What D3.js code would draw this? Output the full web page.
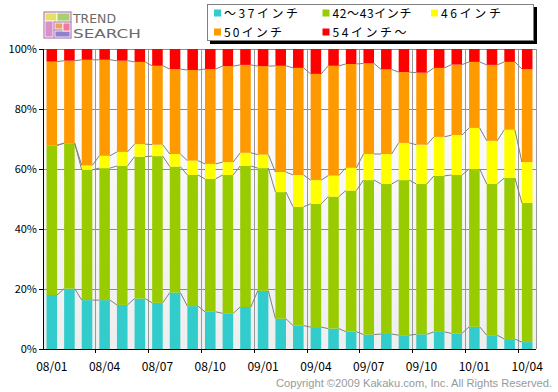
<!DOCTYPE html>
<html>
<head>
<meta charset="utf-8">
<script src="https://cdn.jsdelivr.net/npm/d3@7"></script>
<style>
  body { margin: 0; background: #fff; }
  text { font-family: "Noto Sans CJK JP", "DejaVu Sans", sans-serif; }
</style>
</head>
<body>
<div id="chart"></div>
<script>
// months (x categories) and share of each screen size class, in %
var months = ["08/01","08/02","08/03","08/04","08/05","08/06","08/07","08/08","08/09","08/10","08/11","08/12",
              "09/01","09/02","09/03","09/04","09/05","09/06","09/07","09/08","09/09","09/10","09/11","09/12",
              "10/01","10/02","10/03","10/04"];
var tickMonths = ["08/01","08/04","08/07","08/10","09/01","09/04","09/07","09/10","10/01","10/04"];

var seriesNames = ["～37インチ", "42～43インチ", "46インチ", "50インチ", "54インチ～"];
var seriesColors = ["#33cccc", "#99cc00", "#ffff00", "#ff9900", "#ff0000"];

var s37 = [18.0,20.1,16.3,16.3,14.7,16.8,15.4,18.8,14.3,12.4,11.9,14.0,19.4,10.1,7.8,7.3,6.8,5.8,4.8,5.0,4.6,4.9,5.7,5.2,7.4,4.6,3.3,2.3];
var s42 = [49.9,48.5,43.4,44.0,46.3,47.3,48.9,42.0,43.7,44.3,46.1,47.0,40.9,42.2,39.6,41.1,44.0,47.0,51.5,50.0,51.7,50.1,52.0,52.8,52.6,50.4,53.7,46.4];
var s46 = [0.0,0.0,1.5,4.1,4.7,4.2,3.8,4.2,4.8,5.0,4.3,4.4,4.5,6.7,10.6,7.9,7.0,7.6,8.7,10.0,12.4,13.1,13.0,13.3,13.7,14.4,16.1,13.6];
var s50 = [27.9,27.5,35.2,32.0,30.4,27.4,26.3,28.3,30.2,31.6,32.0,29.3,29.5,35.4,35.7,35.4,36.6,34.6,30.2,28.2,23.6,24.0,23.0,23.5,22.0,25.3,22.6,31.0];
var s54 = [4.2,3.9,3.6,3.6,3.9,4.3,5.6,6.7,7.0,6.7,5.7,5.3,5.7,5.6,6.3,8.3,5.6,5.0,4.8,6.8,7.7,7.9,6.3,5.2,4.3,5.3,4.3,6.7];

var yTicks = [0, 20, 40, 60, 80, 100];

var W = 558, H = 392;
var margin = {top: 49, right: 22, bottom: 43, left: 43},
    width = W - margin.left - margin.right,
    height = H - margin.top - margin.bottom;

var svg = d3.select("#chart").append("svg")
    .attr("width", W).attr("height", H);

// table for the stack
var table = months.map(function (m, i) {
  return {month: m, a: s37[i], b: s42[i], c: s46[i], d: s50[i], e: s54[i]};
});
var keys = ["a", "b", "c", "d", "e"];
var stacked = d3.stack().keys(keys).offset(d3.stackOffsetExpand)(table);

var x = d3.scaleBand().domain(months).range([0, width]).paddingInner(0.4).paddingOuter(0.2);
var y = d3.scaleLinear().domain([0, 1]).range([height, 0]);

// background gradient
var defs = svg.append("defs");
var grad = defs.append("linearGradient").attr("id", "bg").attr("x1", 0).attr("y1", 0).attr("x2", 0).attr("y2", 1);
grad.append("stop").attr("offset", "0%").attr("stop-color", "#ffffff");
grad.append("stop").attr("offset", "100%").attr("stop-color", "#eeeeee");

var g = svg.append("g").attr("transform", "translate(" + margin.left + "," + margin.top + ")");

g.append("rect").attr("width", width).attr("height", height).attr("fill", "url(#bg)");

// horizontal grid
g.append("g").selectAll("line").data(yTicks.slice(1)).enter().append("line")
  .attr("x1", 0).attr("x2", width)
  .attr("y1", function (d) { return y(d / 100); }).attr("y2", function (d) { return y(d / 100); })
  .attr("stroke", "#8c8c8c").attr("stroke-width", 1).attr("shape-rendering", "crispEdges");

// vertical grid between groups of 3 months
var vIdx = d3.range(3, months.length, 3);
function boundary(i) { return x(months[i]) - x.step() * x.paddingInner() / 2; }
g.append("g").selectAll("line").data(vIdx).enter().append("line")
  .attr("x1", boundary).attr("x2", boundary)
  .attr("y1", 0).attr("y2", height + 4)
  .attr("stroke", "#999").attr("shape-rendering", "crispEdges");
g.append("g").selectAll("line").data(vIdx).enter().append("line")
  .attr("x1", boundary).attr("x2", boundary)
  .attr("y1", height).attr("y2", height + 4)
  .attr("stroke", "#000").attr("shape-rendering", "crispEdges");

// right border
g.append("line").attr("x1", width).attr("x2", width).attr("y1", 0).attr("y2", height)
  .attr("stroke", "#999").attr("shape-rendering", "crispEdges");

// bars
var layer = g.append("g").selectAll("g").data(stacked).enter().append("g")
  .attr("fill", function (d, i) { return seriesColors[i]; });
layer.selectAll("rect").data(function (d) { return d; }).enter().append("rect")
  .attr("x", function (d) { return x(d.data.month); })
  .attr("width", x.bandwidth())
  .attr("y", function (d) { return y(d[1]); })
  .attr("height", function (d) { return y(d[0]) - y(d[1]); });

// series lines joining bars
stacked.slice(0, 4).forEach(function (s) {
  for (var i = 0; i < s.length - 1; i++) {
    g.append("line")
      .attr("x1", x(months[i]) + x.bandwidth()).attr("y1", y(s[i][1]))
      .attr("x2", x(months[i + 1])).attr("y2", y(s[i + 1][1]))
      .attr("stroke", "#808080").attr("stroke-width", 1);
  }
});

// axes lines
g.append("line").attr("x1", 0).attr("x2", width).attr("y1", height).attr("y2", height)
  .attr("stroke", "#000").attr("shape-rendering", "crispEdges");
g.append("line").attr("x1", 0).attr("x2", 0).attr("y1", 0).attr("y2", height)
  .attr("stroke", "#000").attr("shape-rendering", "crispEdges");
g.append("g").selectAll("line").data(yTicks).enter().append("line")
  .attr("x1", -4).attr("x2", 0)
  .attr("y1", function (d) { return y(d / 100); }).attr("y2", function (d) { return y(d / 100); })
  .attr("stroke", "#000").attr("shape-rendering", "crispEdges");

// y labels
g.append("g").selectAll("text").data(yTicks).enter().append("text")
  .attr("x", -6).attr("y", function (d) { return y(d / 100) + 4; })
  .attr("text-anchor", "end").attr("font-size", 11).attr("fill", "#000")
  .text(function (d) { return d + "%"; });

// x labels
g.append("g").selectAll("text").data(tickMonths).enter().append("text")
  .attr("x", function (d) { return x(d) + x.bandwidth() / 2; })
  .attr("y", height + 22)
  .attr("text-anchor", "middle").attr("font-size", 12).attr("fill", "#000")
  .text(function (d) { return d; });

// copyright
svg.append("text").attr("x", 552).attr("y", 387).attr("text-anchor", "end")
  .attr("font-size", 11).attr("fill", "#999")
  .attr("textLength", 276).attr("lengthAdjust", "spacingAndGlyphs")
  .style("font-family", "'Liberation Sans', Arial, sans-serif")
  .text("Copyright ©2009 Kakaku.com, Inc. All Rights Reserved.");

// legend
var lg = svg.append("g");
lg.append("rect").attr("x", 210).attr("y", 7).attr("width", 327).attr("height", 37).attr("fill", "#000");
lg.append("rect").attr("x", 207.5).attr("y", 4.5).attr("width", 326).attr("height", 36)
  .attr("fill", "#fff").attr("stroke", "#808080");
var legPos = [[214, 13], [322.5, 13], [431, 13], [214, 32], [322.5, 32]];
var legWidth = [74, 79, 60, 58, 74];
var items = lg.selectAll("g.item").data(seriesNames).enter().append("g")
  .attr("transform", function (d, i) { return "translate(" + legPos[i][0] + "," + legPos[i][1] + ")"; });
items.append("rect").attr("x", 0).attr("y", -3.5).attr("width", 7).attr("height", 7)
  .attr("fill", function (d, i) { return seriesColors[i]; });
items.append("text").attr("x", 10).attr("y", 4.5).attr("font-size", 12).attr("fill", "#000")
  .attr("textLength", function (d, i) { return legWidth[i]; })
  .attr("lengthAdjust", "spacing")
  .text(function (d) { return d; });

// logo
var logo = svg.append("g").attr("transform", "translate(43,11)");
var logoParts = [
  [0, 0, 29, 28, "#b07ab8"],
  [2, 2, 12, 8, "#e8e060"],
  [14, 2, 13, 8, "#a8d070"],
  [2, 10, 8, 16, "#d890c8"],
  [12, 12, 8, 6, "#f0a060"],
  [12, 20, 15, 6, "#9080d0"],
  [20, 12, 7, 8, "#f07a9a"]
];
logo.selectAll("rect").data(logoParts).enter().append("rect")
  .attr("x", function (d) { return d[0]; }).attr("y", function (d) { return d[1]; })
  .attr("width", function (d) { return d[2]; }).attr("height", function (d) { return d[3]; })
  .attr("fill", function (d) { return d[4]; }).attr("stroke", "#fff").attr("stroke-width", 0.8);
logo.append("text").attr("x", 30).attr("y", 12).attr("font-size", 13).attr("fill", "#6a6a6a")
  .attr("textLength", 43).attr("lengthAdjust", "spacingAndGlyphs")
  .style("font-family", "'DejaVu Sans', sans-serif")
  .text("TREND");
logo.append("text").attr("x", 30).attr("y", 27).attr("font-size", 13).attr("fill", "#6a6a6a")
  .attr("textLength", 68).attr("lengthAdjust", "spacingAndGlyphs")
  .style("font-family", "'DejaVu Sans', sans-serif")
  .text("SEARCH");
</script>
</body>
</html>
